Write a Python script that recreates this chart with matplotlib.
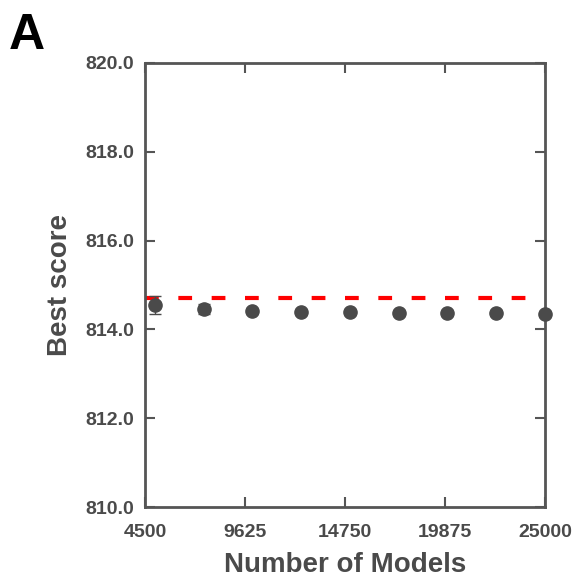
import matplotlib
matplotlib.use("Agg")
import matplotlib.pyplot as plt

plt.rcParams['font.family'] = ['Liberation Sans', 'DejaVu Sans']
plt.rcParams['font.weight'] = 'bold'

n_models = [5000, 7500, 10000, 12500, 15000, 17500, 20000, 22500, 25000]
best_score = [814.55, 814.46, 814.42, 814.40, 814.39, 814.38, 814.37, 814.36, 814.355]
score_err = [0.21, 0.12, 0.05, 0.03, 0.03, 0.02, 0.02, 0.02, 0.02]
reference_score = 814.70
x_ticks = [4500, 9625, 14750, 19875, 25000]
y_ticks = [810.0, 812.0, 814.0, 816.0, 818.0, 820.0]

gray = '#4a4a4a'
fig = plt.figure(figsize=(5.77, 5.86), dpi=100)
ax = fig.add_axes([0.2513, 0.1348, 0.6932, 0.7577])

ax.axhline(reference_score, color='#ff0000', lw=3, ls=(0, (3.3, 4.7)), zorder=2)
ax.errorbar(n_models, best_score, yerr=score_err, fmt='o', color=gray,
            ms=9.5, ecolor=gray, elinewidth=1, capsize=4, capthick=1, zorder=3,
            clip_on=False)

ax.set_xlim(4500, 25000)
ax.set_ylim(810, 820)
ax.set_xticks(x_ticks)
ax.set_xticklabels([str(t) for t in x_ticks])
ax.set_yticks(y_ticks)
ax.set_yticklabels([f"{t:.1f}" for t in y_ticks])

for s in ax.spines.values():
    s.set_color('#555555')
    s.set_linewidth(2)

ax.tick_params(axis='both', direction='in', length=7, width=1.5, color='#555555',
               labelsize=14, labelcolor=gray, top=True, right=True)
ax.tick_params(axis='x', pad=12.5)
ax.tick_params(axis='y', pad=8)

ax.set_xlabel('Number of Models', fontsize=20, fontweight='bold', color=gray, labelpad=8)
ax.set_ylabel('Best score', fontsize=20, fontweight='bold', color=gray, labelpad=9)

fig.text(0.016, 0.977, 'A', fontsize=36, fontweight='bold', color='black', va='top', ha='left')

fig.savefig('out.png', dpi=100)
